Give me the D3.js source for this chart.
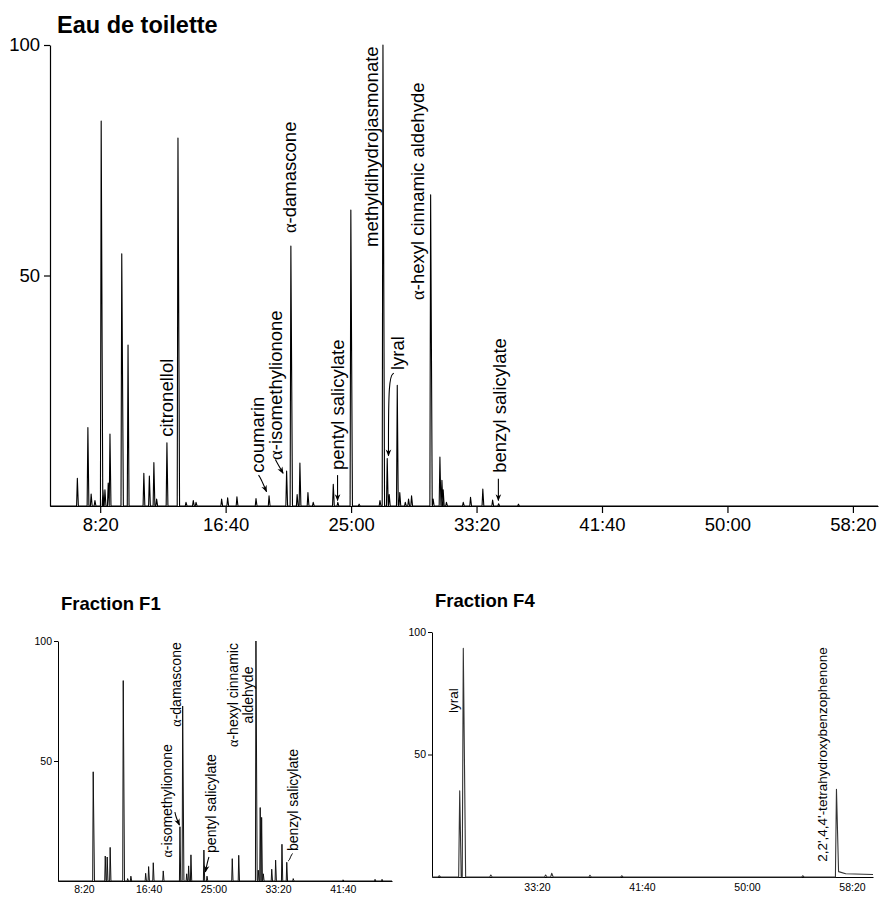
<!DOCTYPE html>
<html><head><meta charset="utf-8">
<script src="https://cdn.jsdelivr.net/npm/d3@7"></script>
<style>
body{margin:0;background:#fff}
svg{display:block}
text{font-family:"Liberation Sans",Arial,Helvetica,sans-serif;fill:#000}
</style>
</head><body>
<svg id="c" width="879" height="897"></svg>
<script>
// ---------- DATA (retention time in seconds, relative abundance %) ----------
const topTimes   = [409,451,464,479,504,511,519,532,539,586,611,674,696,714,725,766,810,842,871,882,
                    984,1008,1045,1121,1173,1243,1260,1285,1296,1328,1349,1429,1447,1499,1532,1615,1627,
                    1644,1652,1684,1694,1716,1729,1741,1817,1827,1854,1862,1867,1880,1947,1976,2025,2064,2088,2167];
const topHeights = [6.0,17.0,2.6,1.2,83.5,3.5,3.5,5.0,15.6,54.7,34.9,7.1,6.5,9.4,1.5,13.7,79.8,0.8,1.2,0.8,
                    1.5,1.8,2.0,1.6,2.2,7.6,56.4,2.5,9.3,2.9,0.8,4.7,0.8,64.2,0.4,1.2,100,
                    10.3,2.5,26.2,2.9,0.8,1.5,2.2,67.5,1.5,10.6,5.6,3.5,0.8,0.8,1.9,3.7,1.3,0.5,0.4];

const f1Times    = [572,665,680,703,804,838,863,977,1000,1036,1113,1242,1263,1294,1309,1327,1427,1451,
                    1646,1696,1829,1847,1862,1873,1886,1951,1981,2030,2067,2117,2502,2749,2803];
const f1Heights  = [45.5,10.4,10.0,14.0,83.5,1.0,2.0,3.2,6.0,7.6,4.2,22.6,72.9,3.0,6.3,10.9,12.9,2.0,
                    9.3,10.7,100,4.5,30.6,26.5,3.0,4.9,8.7,15.3,7.8,1.0,0.5,0.7,0.7];

const f4Times    = [1534,1632,1649,1780,2041,2070,2252,2403,3265,3426];
const f4Heights  = [0.5,35.2,93.3,0.8,0.8,1.5,0.7,0.5,0.5,35.8];
const f4TailTimes  = [3436,3470,3600];
const f4TailLevels = [2.2,1.3,1.0];

const topXTicks = [500,1000,1500,2000,2500,3000,3500];
const f1XTicks  = [500,1000,1500,2000,2500];
const f4XTicks  = [2000,2500,3000,3500];
const yTicks    = [50,100];

// labels: text, time of label centre, abundance at label foot
const topLabelText = ["citronellol","coumarin","α-isomethylionone","α-damascone","pentyl salicylate",
                      "methyldihydrojasmonate","α-hexyl cinnamic aldehyde","lyral","benzyl salicylate"];
const topLabelTime = [766,1127,1200,1256,1447,1583,1766,1686,2093];
const topLabelFoot = [15.0,7.2,10.0,59.2,7.8,56.2,44.7,29.5,7.2];
const topArrows = [
  [[1131,6.7],[1140,6.0],[1163,3.1]],
  [[1198,10.1],[1206,9.3],[1229,7.1]],
  [[1446,6.7],[1446,1.2]],
  [[1670,28.8],[1649,28.0],[1649,10.9]],
  [[2087,5.9],[2087,1.2]]
];

const f1LabelText = ["α-isomethylionone","α-damascone","pentyl salicylate","α-hexyl cinnamic|aldehyde","benzyl salicylate"];
const f1LabelTime = [1139,1216,1479,1712,2117];
const f1LabelFoot = [9.8,64.3,11.7,77.5,12.5];
const f1LabelMid  = [false,false,false,true,false];
const f1Arrows = [
  [[1203,28.7],[1212,26.5],[1238,23.3]],
  [[1466,10.0],[1454,7.9],[1439,3.8]]
];
const f1Hooks = [[[2112,11.5],[2098,10.4],[2090,8.9],[2077,8.3]]];

const f4LabelText = ["lyral","2,2',4,4'-tetrahydroxybenzophenone"];
const f4LabelTime = [1599,3359];
const f4LabelFoot = [66.9,6.2];

// ---------- DRAWING ----------
const svg = d3.select("#c");
const fmt = s => Math.floor(s/60) + ":" + String(s%60).padStart(2,"0");

svg.append("defs").append("marker")
  .attr("id","ah").attr("viewBox","0 0 10 10").attr("refX",9).attr("refY",5)
  .attr("markerWidth",7).attr("markerHeight",7).attr("orient","auto-start-reverse")
  .attr("markerUnits","userSpaceOnUse")
  .append("path").attr("d","M0,1 L10,5 L0,9 L3,5 Z").attr("fill","#000");

function panel(o){
  const g = svg.append("g");
  const x = d3.scaleLinear().domain(o.xDomain).range(o.xRange);
  const y = d3.scaleLinear().domain([0,100]).range(o.yRange);

  // trace
  const peaks = o.times.map((t,i)=>({t, h:o.heights[i]})).sort((a,b)=>a.t-b.t);
  const pts = [[o.xDomain[0],0]];
  peaks.forEach((p,i)=>{
    const wl = o.wl, wr = o.wr + (p.h>40 ? o.wr*0.6 : 0);
    if (i===peaks.length-1 && o.tailT){
      pts.push([p.t-wl,0],[p.t,p.h]);
      o.tailT.forEach((tt,k)=>pts.push([tt,o.tailV[k]]));
    } else {
      pts.push([p.t-wl,0],[p.t,p.h],[p.t+wr,0]);
    }
  });
  if (!o.tailT) pts.push([o.xDomain[1],0]);
  const line = d3.line().x(d=>x(d[0])).y(d=>y(d[1]));

  // axes
  const ax = g.append("g").attr("transform",`translate(0,${o.yRange[0]})`)
    .call(d3.axisBottom(x).tickValues(o.xTicks).tickFormat(fmt)
      .tickSize(o.xTickSize).tickSizeOuter(0).tickPadding(o.xPad));
  const ay = g.append("g").attr("transform",`translate(${o.xRange[0]},0)`)
    .call(d3.axisLeft(y).tickValues(yTicks).tickSize(o.yTickSize).tickSizeOuter(0).tickPadding(o.yPad));
  [ax,ay].forEach(a=>{
    a.selectAll("path,line").attr("stroke","#000").attr("stroke-width",o.axisW);
    a.selectAll("text").attr("font-size",o.tickFont).attr("font-family","'Liberation Sans',Arial,sans-serif").attr("fill","#000");
  });

  g.append("path").datum(pts).attr("d",line).attr("fill","none")
    .attr("stroke",o.traceColor).attr("stroke-width",o.traceW).attr("stroke-linejoin","round");

  // title
  g.append("text").attr("x",o.titleX).attr("y",o.titleY).attr("font-weight","bold")
    .attr("font-size",o.titleSize).text(o.title);

  // labels
  o.labels.forEach((txt,i)=>{
    const mid = o.labelMid && o.labelMid[i];
    const t = g.append("text")
      .attr("transform",`translate(${x(o.labelTime[i])},${y(o.labelFoot[i])}) rotate(-90)`)
      .attr("text-anchor", mid ? "middle" : "start")
      .attr("font-size",o.labelFont);
    const lines = txt.split("|");
    lines.forEach((ln,k)=>{
      const dy = (k===0) ? (0.35 - (lines.length-1)*0.55) + "em" : "1.1em";
      const x0 = (k===0) ? null : 0;
      const first = t.append("tspan").attr("dy",dy);
      if (k>0) first.attr("x",0);
      let rest = ln;
      if (ln.startsWith("α")){
        first.attr("font-family","'Liberation Serif','DejaVu Serif',serif").text("α");
        rest = ln.slice(1);
        t.append("tspan").text(rest);
      } else {
        first.text(rest);
      }
    });
  });

  (o.arrows||[]).forEach(a=>{
    g.append("path").datum(a).attr("d",d3.line().x(d=>x(d[0])).y(d=>y(d[1])).curve(d3.curveBasis))
      .attr("fill","none").attr("stroke","#000").attr("stroke-width",1.1).attr("marker-end","url(#ah)");
  });
  (o.hooks||[]).forEach(a=>{
    g.append("path").datum(a).attr("d",d3.line().x(d=>x(d[0])).y(d=>y(d[1])).curve(d3.curveBasis))
      .attr("fill","none").attr("stroke","#000").attr("stroke-width",1);
  });
}

panel({
  title:"Eau de toilette", titleX:57, titleY:33, titleSize:23.5,
  xDomain:[300,3600], xRange:[50,878], yRange:[506,45],
  times:topTimes, heights:topHeights, wl:3, wr:4,
  xTicks:topXTicks, xTickSize:7, xPad:5, yTickSize:6, yPad:4, tickFont:18.5, axisW:1.2,
  traceColor:"#000", traceW:1.1,
  labels:topLabelText, labelTime:topLabelTime, labelFoot:topLabelFoot, labelFont:18.5,
  arrows:topArrows
});

panel({
  title:"Fraction F1", titleX:61, titleY:610, titleSize:18.5,
  xDomain:[300,2880], xRange:[58,392], yRange:[881,641],
  times:f1Times, heights:f1Heights, wl:4, wr:6,
  xTicks:f1XTicks, xTickSize:0, xPad:5, yTickSize:4, yPad:2, tickFont:10.5, axisW:1,
  traceColor:"#111", traceW:1,
  labels:f1LabelText, labelTime:f1LabelTime, labelFoot:f1LabelFoot, labelMid:f1LabelMid, labelFont:14,
  arrows:f1Arrows, hooks:f1Hooks
});

panel({
  title:"Fraction F4", titleX:435, titleY:607, titleSize:18.5,
  xDomain:[1500,3600], xRange:[432,873], yRange:[877,632],
  times:f4Times, heights:f4Heights, wl:5, wr:7, tailT:f4TailTimes, tailV:f4TailLevels,
  xTicks:f4XTicks, xTickSize:0, xPad:7, yTickSize:4, yPad:2, tickFont:10.5, axisW:1,
  traceColor:"#333", traceW:1.1,
  labels:f4LabelText, labelTime:f4LabelTime, labelFoot:f4LabelFoot, labelFont:13.5
});
</script>
</body></html>
